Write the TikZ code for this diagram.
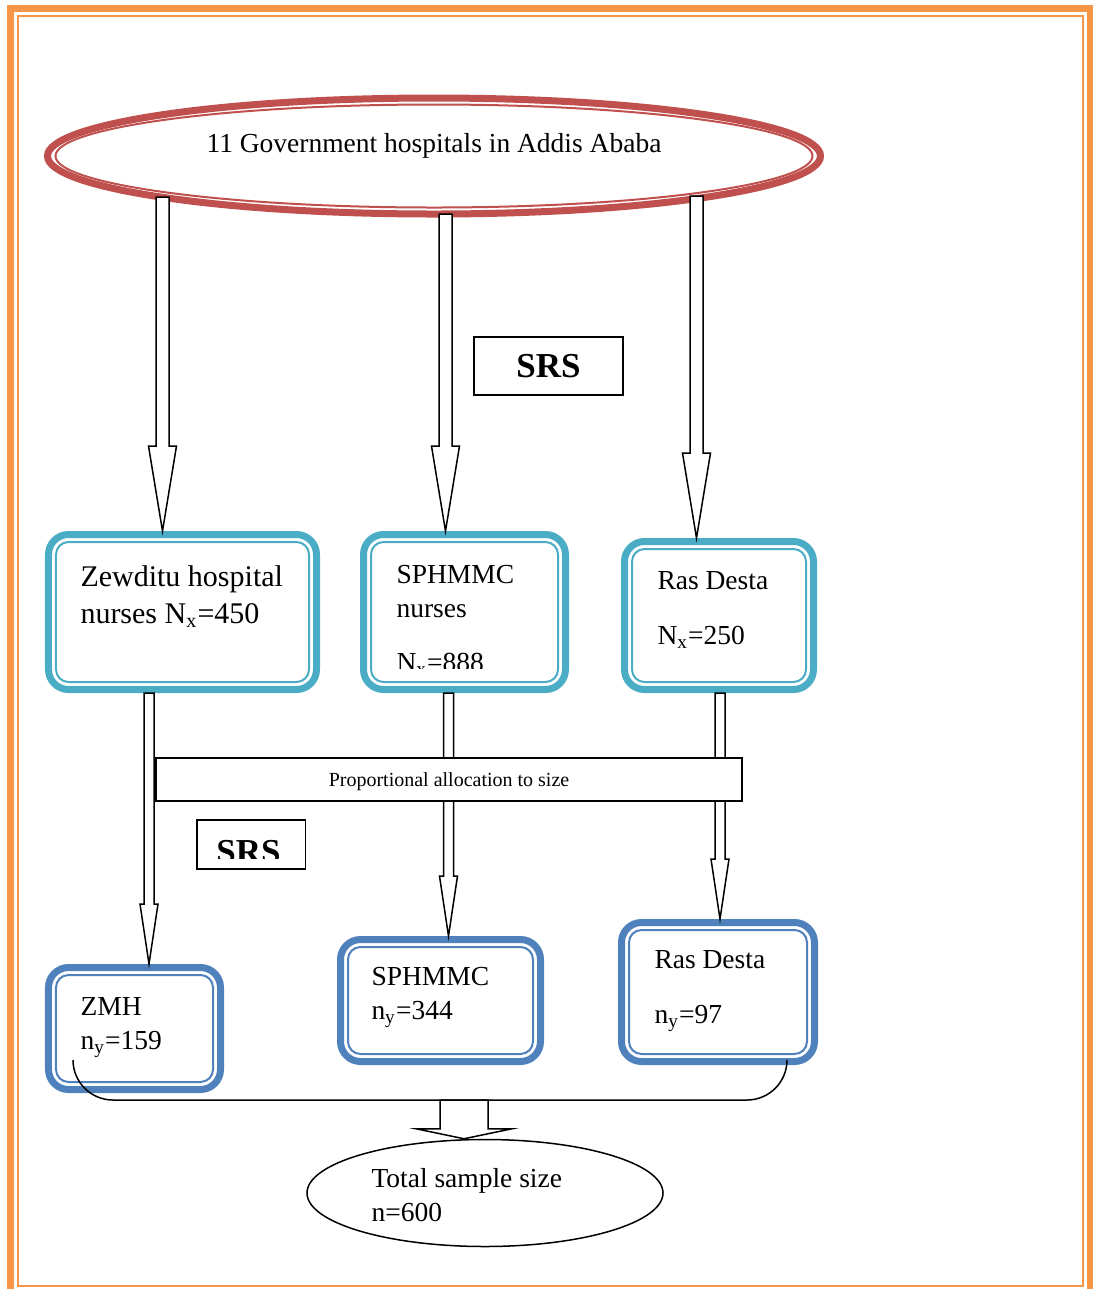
\documentclass[tikz,border=0pt]{standalone}
\usepackage{fontspec}
\setmainfont{Liberation Serif}
\usetikzlibrary{arrows.meta, positioning, shapes.geometric, calc}
\definecolor{frameorange}{HTML}{F79646}
\definecolor{ovalred}{HTML}{C0504D}
\definecolor{boxteal}{HTML}{4BACC6}
\definecolor{boxblue}{HTML}{4F81BD}

\tikzset{
  shaft w/.store in=\blkshaft, head w/.store in=\blkhead, head l/.store in=\blklen,
  shaft w=2.6pt, head w=5.6pt, head l=34pt
}

\begin{document}
\begin{tikzpicture}[x=0.4pt, y=-0.4pt,
    hosp/.style={rectangle, rounded corners=8pt, draw=boxteal, line width=2.8pt, fill=white, inner sep=0pt},
    samp/.style={hosp, draw=boxblue},
    innerring/.style={line width=0.8pt, rounded corners=5pt},
    txt/.style={align=left, inner sep=0pt, anchor=north west, font=\fontsize{11}{13.6}\selectfont},
    srsbox/.style={rectangle, draw, line width=0.6pt, fill=white, inner sep=0pt, font=\fontsize{14}{16}\selectfont\bfseries},
    blk/.style={draw=black, fill=white, line width=0.6pt, to path={let \p1=(\tikztostart), \p2=(\tikztotarget) in
      (\x1-\blkshaft,\y1) -- (\x1-\blkshaft,\y2+\blklen) -- (\x1-\blkhead,\y2+\blklen) -- (\x1,\y2)
      -- (\x1+\blkhead,\y2+\blklen) -- (\x1+\blkshaft,\y2+\blklen) -- (\x1+\blkshaft,\y1) -- cycle}}
  ]
    \useasboundingbox (0,0) rectangle (1093,1289);

    % page frame
    \draw[frameorange, line width=2.8pt] (10.5,8.5) rectangle (1090.5,1300);
    \draw[frameorange, line width=0.8pt] (18,16) rectangle (1083,1285.5);

    % hospitals
    \node[ellipse, draw=ovalred, line width=2.8pt, minimum width=309.2pt, minimum height=46.4pt, inner sep=0pt,
          font=\fontsize{11}{13.6}\selectfont, text height=7.6pt, text depth=10.8pt]
      (gov) at (434,156) {11 Government hospitals in Addis Ababa};
    \draw[ovalred, line width=0.8pt] (gov.center) ellipse [x radius=151.4pt, y radius=20.6pt];

    \node[hosp, minimum width=107.2pt, minimum height=62pt]  (zew) at (182.5,612) {};
    \node[hosp, minimum width=80.8pt,  minimum height=62pt]  (sph) at (464.5,612) {};
    \node[hosp, minimum width=75.6pt,  minimum height=59.2pt] (ras) at (719,615.5) {};
    \foreach \b in {zew,sph,ras}
      \draw[boxteal, innerring] ([shift={(4.4pt,-4.4pt)}]\b.north west) rectangle ([shift={(-4.4pt,4.4pt)}]\b.south east);

    \node[txt, font=\fontsize{12}{14.8}\selectfont] (zewtxt) at (80,565) {Zewditu hospital\\nurses N\textsubscript{x}=450};
    \begin{scope}
      \clip (sph.north west) rectangle ([yshift=10pt]sph.south east);
      \node[txt] (sphtxt) at (396,565) {SPHMMC\\nurses\\[8pt]N\textsubscript{x}=888};
    \end{scope}
    \node[txt] (rastxt) at (657,571) {Ras Desta\\[8.4pt]N\textsubscript{x}=250};

    % samples
    \node[samp, minimum width=68.8pt, minimum height=48.8pt] (zmh) at (134.5,1028.5) {};
    \node[samp, minimum width=80pt,   minimum height=48.8pt] (smc) at (440.5,1000.5) {};
    \node[samp, minimum width=77.2pt, minimum height=55.6pt] (rds) at (718,992) {};
    \foreach \b in {zmh,smc,rds}
      \draw[boxblue, innerring] ([shift={(4.4pt,-4.4pt)}]\b.north west) rectangle ([shift={(-4.4pt,4.4pt)}]\b.south east);

    \node[txt] (zmhtxt) at (80,997)  {ZMH\\n\textsubscript{y}=159};
    \node[txt] (smctxt) at (371,967) {SPHMMC\\n\textsubscript{y}=344};
    \node[txt] (rdstxt) at (654,950) {Ras Desta\\[8.4pt]n\textsubscript{y}=97};

    \node[ellipse, draw, line width=0.6pt, minimum width=142.4pt, minimum height=42.8pt, inner sep=0pt] (total) at (485,1193) {};
    \node[txt] (totaltxt) at (371,1168) {Total sample size\\n=600};

    % arrows
    \coordinate (g1) at (162.5,197);
    \coordinate (g2) at (445.5,214);
    \coordinate (g3) at (696.5,196);
    \draw[blk] (g1) to (g1 |- zew.north);
    \draw[blk] (g2) to (g2 |- sph.north);
    \draw[blk] (g3) to (g3 |- ras.north);

    \coordinate (z1) at (149,693);
    \coordinate (z2) at (448.5,693);
    \coordinate (z3) at (720,693);
    \begin{scope}[shaft w=2pt, head w=3.6pt, head l=24pt]
      \draw[blk] (z1) to (z1 |- zmh.north);
      \draw[blk] (z2) to (z2 |- smc.north);
      \draw[blk] (z3) to (z3 |- rds.north);
    \end{scope}

    \node[rectangle, draw, line width=0.6pt, fill=white, minimum width=234.2pt, minimum height=17.2pt, inner sep=0pt,
          font=\fontsize{8}{9.6}\selectfont, text height=7.6pt, text depth=1.8pt] (prop) at (449,779.5) {Proportional allocation to size};
    \node[srsbox, minimum width=59.6pt, minimum height=23.2pt] (srs1) at (548.5,366) {SRS};
    \node[srsbox, minimum width=43.4pt, minimum height=19.6pt] (srs2) at (251,844.5) {};
    \begin{scope}
      \clip (srs2.north west) rectangle ([yshift=4.4pt]srs2.south east);
      \node[srsbox, draw=none, fill=none, anchor=base] (srs2txt) at (248.5,863) {SRS};
    \end{scope}

    % total
    \coordinate (bl) at (73,1060);
    \coordinate (br) at (787,1060);
    \coordinate (sumline) at (464,1100);
    \draw[line width=0.6pt, rounded corners=16pt] (bl) |- (sumline) -| (br);
    \draw[blk, shaft w=9.6pt, head w=19.2pt, head l=4pt] (sumline) to (sumline |- total.north);
\end{tikzpicture}
\end{document}
